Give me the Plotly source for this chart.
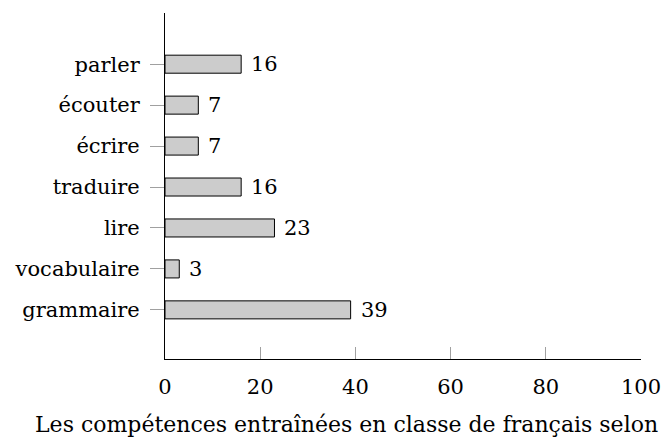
import plotly.graph_objects as go

FONT = 'DejaVu Serif'

skills = ['grammaire', 'vocabulaire', 'lire', 'traduire', 'écrire', 'écouter', 'parler']
counts = [39, 3, 23, 16, 7, 7, 16]
x_ticks = [0, 20, 40, 60, 80, 100]
axis_title = 'Les compétences entraînées en classe de français selon'

fig = go.Figure()
fig.add_bar(
    y=skills, x=counts, orientation='h', width=0.44,
    marker=dict(color='#cccccc', line=dict(color='black', width=1)),
    hoverinfo='skip',
)

# value labels to the right of each bar
labels = [dict(x=v, y=s, text=str(v), xref='x', yref='y', xanchor='left', yanchor='middle',
               xshift=8, showarrow=False, font=dict(family=FONT, size=21, color='black'))
          for s, v in zip(skills, counts)]

fig.update_layout(
    width=663, height=440,
    margin=dict(l=165, r=22, t=13, b=81),
    plot_bgcolor='white', paper_bgcolor='white',
    font=dict(family=FONT, size=21, color='black'),
    showlegend=False,
    xaxis=dict(
        range=[0, 100], tickvals=x_ticks, ticks='inside', ticklen=12,
        tickcolor='#a0a0a0', showgrid=False, zeroline=False, automargin=False,
        showline=True, linecolor='black', linewidth=1, ticklabelstandoff=9,
    ),
    yaxis=dict(
        range=[-1.2, 7.25], ticks='outside', ticklen=14, tickcolor='#a0a0a0',
        showgrid=False, zeroline=False, showline=True, linecolor='black', linewidth=1,
        automargin=False, ticklabelstandoff=6,
    ),
    annotations=labels + [dict(
        text=axis_title, xref='paper', yref='paper', x=0.382, y=-0.19,
        xanchor='center', yanchor='middle', showarrow=False,
        font=dict(family=FONT, size=22),
    )],
)

# drop the default page margin so the figure sits at the window's corner
fig.write_html('out.html', config={'displayModeBar': False},
               post_script="document.body.style.margin = '0';")
